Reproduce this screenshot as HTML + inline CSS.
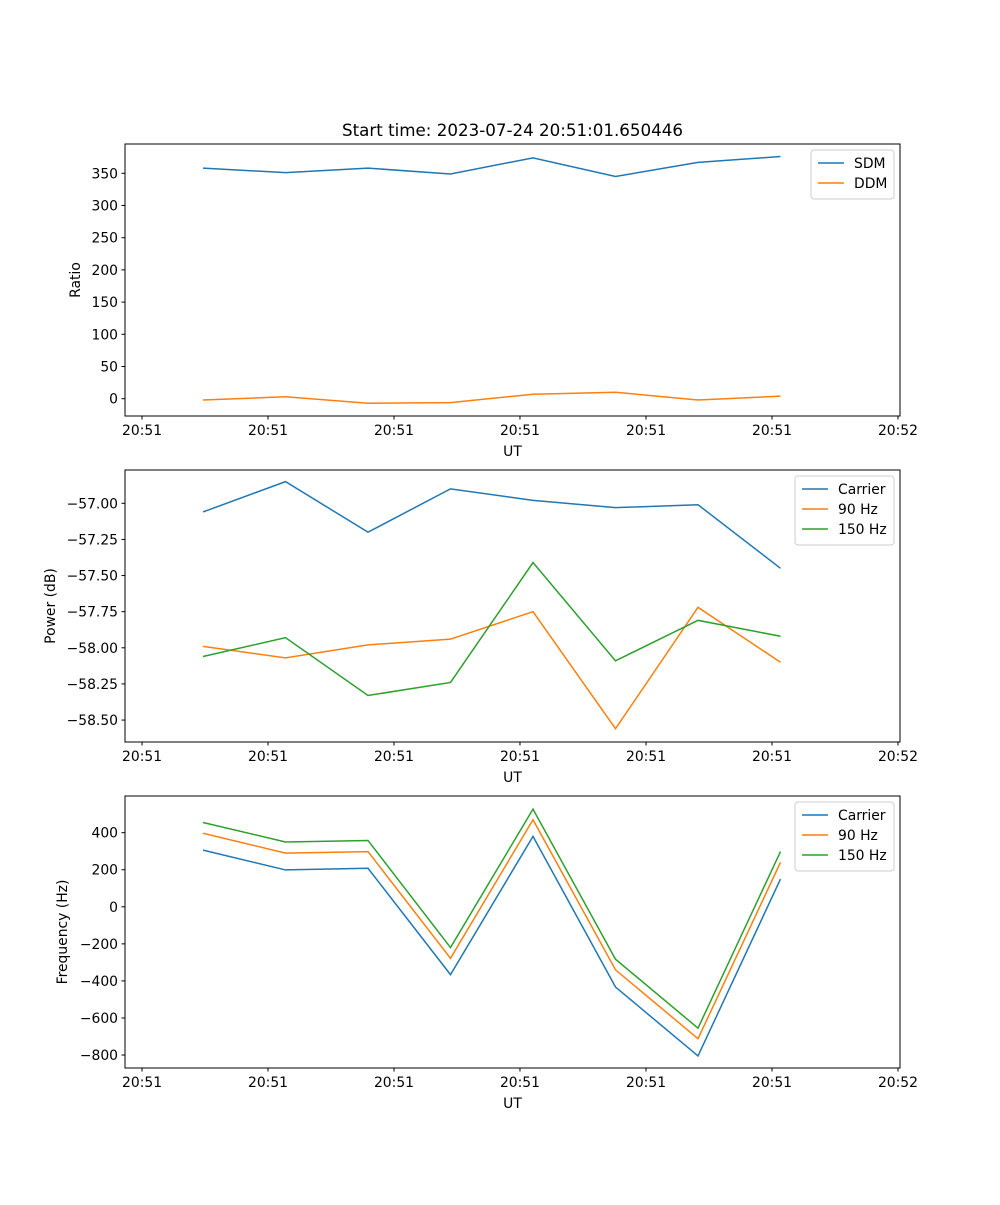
<!DOCTYPE html>
<html><head><meta charset="utf-8"><style>
body{margin:0;background:#fff}
svg text{font-family:"DejaVu Sans","Liberation Sans",sans-serif;font-size:13.9px;fill:#000}
</style></head><body>
<svg id="fig" width="1000" height="1200" xmlns="http://www.w3.org/2000/svg"></svg>
<script>
const xTickLabels=["20:51","20:51","20:51","20:51","20:51","20:51","20:52"];
const xTickIdx=[-0.739,0.788,2.315,3.842,5.370,6.897,8.424];
const ratioTicks=[0,50,100,150,200,250,300,350];
const sdm=[358,351,358,349,374,345,367,376];
const ddm=[-2,3,-7,-6,7,10,-2,4];
const powerTicks=[-58.5,-58.25,-58.0,-57.75,-57.5,-57.25,-57.0];
const powerTickLabels=["\u221258.50","\u221258.25","\u221258.00","\u221257.75","\u221257.50","\u221257.25","\u221257.00"];
const powCarrier=[-57.06,-56.85,-57.20,-56.90,-56.98,-57.03,-57.01,-57.45];
const pow90=[-57.99,-58.07,-57.98,-57.94,-57.75,-58.56,-57.72,-58.10];
const pow150=[-58.06,-57.93,-58.33,-58.24,-57.41,-58.09,-57.81,-57.92];
const freqTicks=[-800,-600,-400,-200,0,200,400];
const freqCarrier=[306,199,208,-366,380,-433,-805,150];
const freq90=[397,290,298,-278,470,-340,-712,240];
const freq150=[455,350,358,-220,527,-283,-655,298];

const NS="http://www.w3.org/2000/svg";
const svg=document.getElementById('fig');
function mk(tag,attrs,parent){const e=document.createElementNS(NS,tag);for(const k in attrs)e.setAttribute(k,attrs[k]);(parent||svg).appendChild(e);return e;}
const L=125,R=900;
const xS=i=>203+82.5*i;
const C1="#1f77b4",C2="#ff7f0e",C3="#2ca02c";
function fmtNum(v){return v<0?"\u2212"+Math.abs(v):String(v);}

function panel(name,top,bot,yS,ticks,tickLabels,ylabel,ylabelX,series,legendW){
  const g=mk('g',{});
  
  
  series.forEach(s=>{
    const p=mk('polyline',{points:s.vals.map((v,i)=>xS(i)+','+yS(v)).join(' '),fill:'none',stroke:s.color,'stroke-width':1.5},g);
    
    
  });
  const fr=mk('rect',{x:L,y:top,width:R-L,height:bot-top,fill:'none',stroke:'#000','stroke-width':1},g);
  
  
  ticks.forEach((t,k)=>{
    const y=yS(t);
    mk('line',{x1:L-3.5,x2:L,y1:y,y2:y,stroke:'#000'},g);
    const tx=mk('text',{x:L-7,y:y+5,'text-anchor':'end'},g);
    tx.textContent=tickLabels?tickLabels[k]:fmtNum(t);
    
    
  });
  xTickIdx.forEach((t,k)=>{
    const x=xS(t);
    mk('line',{x1:x,x2:x,y1:bot,y2:bot+3.5,stroke:'#000'},g);
    const tx=mk('text',{x:x,y:bot+19,'text-anchor':'middle'},g);
    tx.textContent=xTickLabels[k];
    
    
  });
  const xl=mk('text',{x:(L+R)/2,y:bot+40,'text-anchor':'middle'},g);
  xl.textContent='UT';
  
  
  const cy=(top+bot)/2;
  const yl=mk('text',{x:ylabelX,y:cy,'text-anchor':'middle',transform:'rotate(-90 '+ylabelX+' '+cy+')'},g);
  yl.textContent=ylabel;
  
  
  const lx=R-6-legendW, ly=top+6, lh=series.length*20+9;
  const lg=mk('g',{},g);
  
  
  mk('rect',{x:lx,y:ly,width:legendW,height:lh,rx:3,fill:'#fff','fill-opacity':0.8,stroke:'#ccc'},lg);
  series.forEach((s,i)=>{
    const yy=ly+13+i*20;
    mk('line',{x1:lx+7,x2:lx+33,y1:yy,y2:yy,stroke:s.color,'stroke-width':1.5},lg);
    const t=mk('text',{x:lx+43,y:yy+5},lg);
    t.textContent=s.label;
    
    
  });
}
const y1=v=>398.7-v*0.644;
panel('ratio',144,416,y1,ratioTicks,null,'Ratio',80,[{key:'sdm',label:'SDM',vals:sdm,color:C1},{key:'ddm',label:'DDM',vals:ddm,color:C2}],83);
const y2=v=>503.3+(-57-v)*144.5;
panel('power',470,742,y2,powerTicks,powerTickLabels,'Power (dB)',55,[{key:'carrier',label:'Carrier',vals:powCarrier,color:C1},{key:'90hz',label:'90 Hz',vals:pow90,color:C2},{key:'150hz',label:'150 Hz',vals:pow150,color:C3}],99);
const y3=v=>906.8-v*0.1853;
panel('frequency',796,1068,y3,freqTicks,null,'Frequency (Hz)',67,[{key:'carrier-f',label:'Carrier',vals:freqCarrier,color:C1},{key:'90hz-f',label:'90 Hz',vals:freq90,color:C2},{key:'150hz-f',label:'150 Hz',vals:freq150,color:C3}],99);
const title=mk('text',{x:(L+R)/2,y:136,'text-anchor':'middle',style:'font-size:16.7px'});
title.textContent='Start time: 2023-07-24 20:51:01.650446';


</script>
</body></html>
